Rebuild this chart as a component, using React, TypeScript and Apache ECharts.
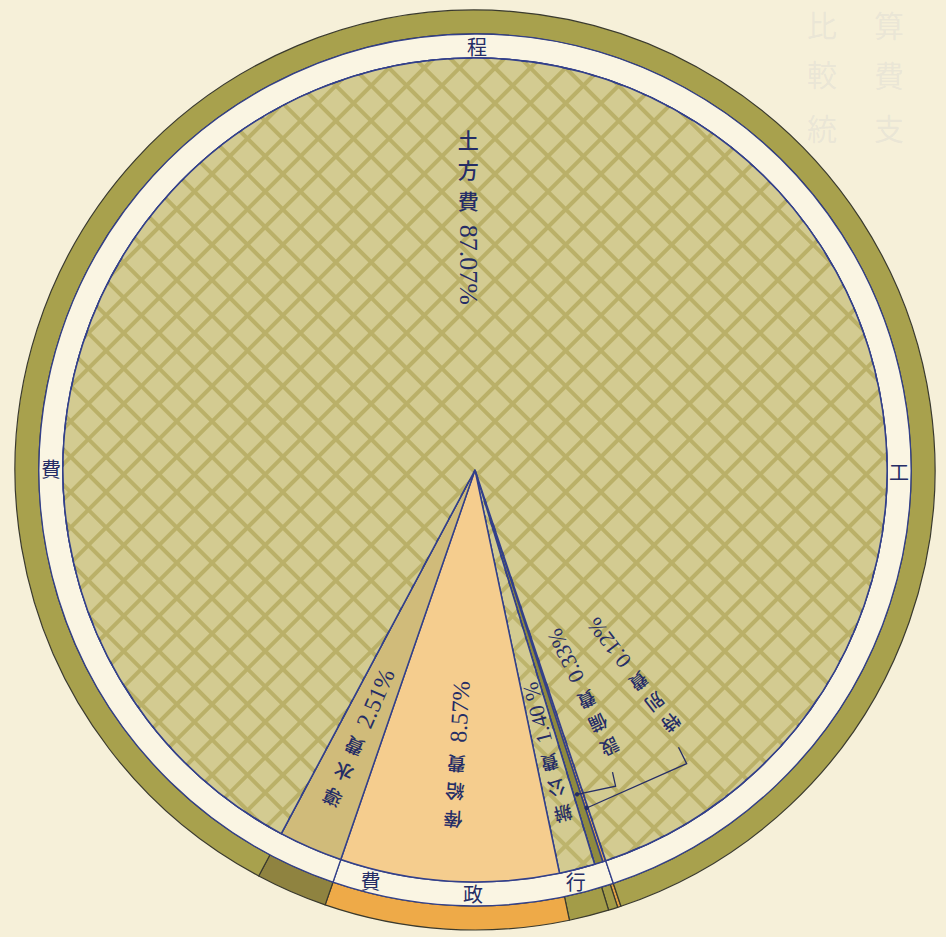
import { useEffect, useRef } from 'react';
import * as echarts from 'echarts';

// ---- data (clockwise from the right edge of the thin wedges) ----
const sliceNames = ['特別費', '設備費', '辦公費', '俸給費', '導水費', '土方費'];
const sliceValues = [0.12, 0.33, 1.4, 8.57, 2.51, 87.07];
const sliceLabels = ['0.12%', '0.33%', '1.40 %', '8.57%', '2.51%', '87.07%'];
const groupNames = ['行政費', '工程費'];
const sliceGroup = [0, 0, 0, 0, 1, 1];
const ghostChars = ['比', '較', '統', '算', '費', '支'];

// ---- layout & style ----
const W = 946;
const H = 937;
const CX = 475;
const CY = 470;
const R_PIE = 412;
const R_RING = 436;
const R_BAND = 460;
const START = -71.5;
const INK = '#252d66';
const NAVY = '#33408a';
const PAPER = '#f6f0d9';
const CJK = '"Noto Sans CJK JP", "Noto Sans CJK TC", sans-serif';
const SERIF = '"Liberation Serif", "DejaVu Serif", serif';
const sliceColors = ['#dea24c', '#8f8a3e', '#bdb46c', '#f5cd8e', '#d0bb7a', '#bab068'];
const bandColors = ['#e3a043', '#a39c48', '#a39c48', '#eeaa48', '#8f8340', '#a8a14d'];
const patterned = [false, false, true, false, false, true];
const labelRadius = [262, 250, 294, 288, 295, 256];
const labelShift = [19.5, 8.5, 0, 0, 0, 6.3];
const bracketRadius = [362, 346, 0, 0, 0, 0];
const labelCharSize = [18, 18, 18, 19, 19, 21];
const labelNumSize = [22, 22, 22, 24, 24, 26];
const ringCharOffsets = [[14, 0, -14], [-90, 0, 90]];
const ghostPos = [[822, 24], [822, 73], [822, 127], [889, 24], [889, 74], [889, 127]];

function polar(r: number, deg: number): [number, number] {
  const a = (deg * Math.PI) / 180;
  return [CX + r * Math.cos(a), CY - r * Math.sin(a)];
}

function numLen(s: string, fs: number) {
  let w = 0;
  for (const ch of s) {
    if (ch === '.') w += 0.25;
    else if (ch === '%') w += 0.833;
    else if (ch === ' ') w += 0.25;
    else w += 0.5;
  }
  return w * fs;
}

export default function App() {
  const ref = useRef<HTMLDivElement>(null);
  useEffect(() => {
    const el = ref.current!;
    const chart = echarts.init(el, null, { renderer: 'svg', width: W, height: H });

    const total = sliceValues.reduce((a, b) => a + b, 0);
    const starts: number[] = [];
    const ends: number[] = [];
    const mids: number[] = [];
    let acc = 0;
    sliceValues.forEach((v) => {
      starts.push(START - (acc / total) * 360);
      mids.push(START - ((acc + v / 2) / total) * 360);
      acc += v;
      ends.push(START - (acc / total) * 360);
    });
    const groupValues = groupNames.map((_, g) =>
      sliceValues.reduce((s, v, i) => s + (sliceGroup[i] === g ? v : 0), 0)
    );
    const groupMids = groupNames.map((_, g) => {
      const idx = sliceGroup.map((gg, i) => (gg === g ? i : -1)).filter((i) => i >= 0);
      return (starts[idx[0]] + ends[idx[idx.length - 1]]) / 2;
    });

    const elements: any[] = [];

    // faint show-through characters from the reverse page
    ghostChars.forEach((ch, i) => {
      elements.push({
        type: 'text',
        x: ghostPos[i][0],
        y: ghostPos[i][1],
        z: 1,
        silent: true,
        style: {
          text: ch,
          fontSize: 30,
          fontFamily: CJK,
          fill: 'rgba(150,165,195,0.14)',
          align: 'center',
          verticalAlign: 'middle',
        },
      });
    });

    // slice labels: vertical columns rotated so that they read from rim to centre
    sliceNames.forEach((name, i) => {
      const phi = mids[i] + labelShift[i];
      const cf = labelCharSize[i];
      const nf = labelNumSize[i];
      const step = cf * 1.46;
      const gap = cf * 0.45;
      const nl = numLen(sliceLabels[i], nf);
      const chars = [...name];
      const L = chars.length * step + gap + nl;
      const [x, y] = polar(labelRadius[i], phi);
      const rot = i === 5 ? 0 : ((phi - 90) * Math.PI) / 180;
      const children: any[] = [
        {
          type: 'text',
          x: 0,
          y: -L / 2 + (chars.length * step) / 2,
          z: 30,
          style: {
            text: chars.join('\n'),
            fontSize: cf,
            lineHeight: step,
            fontFamily: CJK,
            fontWeight: 500,
            fill: INK,
            align: 'center',
            verticalAlign: 'middle',
          },
        },
        {
          type: 'text',
          x: 0,
          y: -L / 2 + chars.length * step + gap,
          rotation: -Math.PI / 2,
          z: 30,
          style: { text: sliceLabels[i], fontSize: nf, fontFamily: SERIF, fill: INK, align: 'left', verticalAlign: 'middle' },
        },
      ];
      elements.push({ type: 'group', x, y, rotation: rot, children, z: 30 });

      if (bracketRadius[i] > 0) {
        const rEnd = labelRadius[i] + L / 2;
        const p1 = polar(rEnd + 10, phi - 1.5);
        const p2 = polar(bracketRadius[i], phi - 2);
        const w = polar(bracketRadius[i] - 6, mids[i]);
        elements.push({
          type: 'polyline',
          z: 30,
          shape: { points: [p1, p2, w] },
          style: { stroke: INK, lineWidth: 1.3, fill: null },
        });
        elements.push({ type: 'circle', z: 31, shape: { cx: w[0], cy: w[1], r: 2.2 }, style: { fill: INK } });
      }
    });

    // ring characters
    groupNames.forEach((gname, g) => {
      [...gname].forEach((ch, k) => {
        const [x, y] = polar((R_PIE + R_RING) / 2, groupMids[g] + ringCharOffsets[g][k]);
        elements.push({
          type: 'text',
          x,
          y,
          z: 30,
          style: { text: ch, fontSize: 20, fontFamily: CJK, fill: INK, align: 'center', verticalAlign: 'middle' },
        });
      });
    });

    const decal = {
      symbol: 'rect',
      symbolSize: 1,
      color: '#d3cb91',
      dashArrayX: [21, 4],
      dashArrayY: [21, 4],
      rotation: Math.PI / 4,
    };

    const common = {
      type: 'pie',
      center: [CX, CY],
      startAngle: START,
      clockwise: true,
      silent: true,
      avoidLabelOverlap: false,
      label: { show: false },
      labelLine: { show: false },
      emphasis: { disabled: true },
    };

    chart.setOption({
      animation: false,
      backgroundColor: PAPER,
      series: [
        {
          ...common,
          radius: [R_RING, R_BAND],
          itemStyle: { borderColor: '#3a3a2e', borderWidth: 1.2 },
          data: sliceNames.map((n, i) => ({ name: n, value: sliceValues[i], itemStyle: { color: bandColors[i] } })),
        },
        {
          ...common,
          radius: [R_PIE, R_RING],
          itemStyle: { color: '#faf5e3', borderColor: NAVY, borderWidth: 1.3 },
          data: groupNames.map((n, g) => ({ name: n, value: groupValues[g] })),
        },
        {
          ...common,
          radius: [0, R_PIE],
          itemStyle: { borderColor: NAVY, borderWidth: 1.5 },
          data: sliceNames.map((n, i) => ({
            name: n,
            value: sliceValues[i],
            itemStyle: patterned[i] ? { color: sliceColors[i], decal } : { color: sliceColors[i] },
          })),
        },
      ],
      graphic: { elements },
    });

    return () => chart.dispose();
  }, []);

  return (
    <div
      ref={ref}
      style={{ position: 'fixed', left: 0, top: 0, width: W, height: H, background: PAPER }}
    />
  );
}
